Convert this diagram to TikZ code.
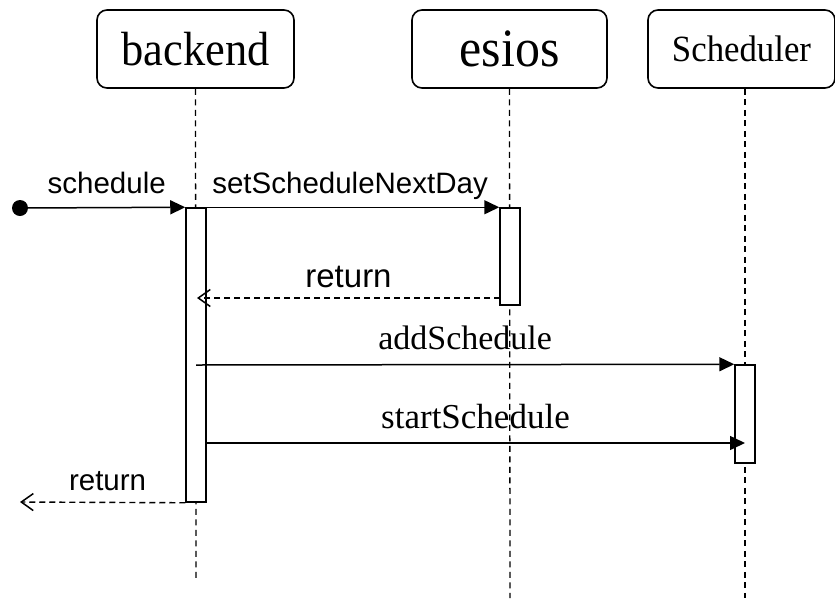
\documentclass[tikz,border=0pt]{standalone}
\usepackage{fontspec}
\setmainfont{Liberation Serif}
\newfontfamily\labelsans{Liberation Sans}
\usetikzlibrary{arrows.meta}

\tikzset{
  head/.style={draw, line width=1.6pt, rounded corners=10pt, fill=white,
    inner sep=0pt},
  life/.style={line width=1.3pt, dash pattern=on 6pt off 4.5pt},
  act/.style={draw, line width=1.5pt, fill=white, minimum width=20pt,
    inner sep=0pt},
  startdot/.style={circle, fill=black, minimum size=16pt, inner sep=0pt},
  msg/.style={line width=1.5pt, -{Triangle[length=15pt, width=14pt]}},
  ret/.style={line width=1.4pt, dash pattern=on 6pt off 4pt,
    -{Straight Barb[length=12pt, width=17pt, line width=1.5pt]}},
  sanslbl/.style={font=\labelsans\fontsize{29.5}{31}\selectfont, anchor=base},
  seriflbl/.style={font=\fontsize{34}{36}\selectfont, anchor=base},
}
% participant title: size, horizontal squeeze, downward shift, text
\newcommand{\headtext}[4]{\raisebox{-#3}{\scalebox{#2}[1]{\fontsize{#1}{#1}\selectfont #4}}}

\begin{document}
\begin{tikzpicture}[x=1pt, y=-1pt]
  \useasboundingbox (0,0) rectangle (835,598);

  % participants
  \node[head, minimum width=197pt, minimum height=78pt] (backend) at (195.5,49)
    {\headtext{48}{0.925}{2pt}{backend}};
  \node[head, minimum width=195pt, minimum height=78pt] (esios) at (509.5,49)
    {\headtext{54}{0.925}{3pt}{esios}};
  \node[head, minimum width=187pt, minimum height=78pt] (sched) at (741.5,49)
    {\headtext{37}{0.94}{2pt}{Scheduler}};

  % lifeline ends
  \coordinate (backendEnd) at (196,580);
  \coordinate (esiosEnd) at (510,598);
  \coordinate (schedEnd) at (745,598);
  \draw[life] (backend.south) -- (backendEnd);
  \draw[life] (esios.south) -- (esiosEnd);
  \draw[life] (sched.south -| schedEnd) -- (schedEnd);

  % activation bars
  \node[act, minimum height=294pt] (actB) at (196,355) {};
  \node[act, minimum height=97pt] (actE) at (510,256.5) {};
  \node[act, minimum height=98pt] (actS) at (745,414) {};

  % message end points
  \node[startdot] (start) at (20,208) {};
  \coordinate (retOneFrom) at (500,298);
  \coordinate (retOneTo) at (197,298);
  \coordinate (addFrom) at (196,365);
  \coordinate (startFrom) at (206,443);
  \coordinate (startTo) at (745,443);
  \coordinate (retTwoTo) at (20,502);

  % messages
  \draw[msg] (start) -- (actB.north west)
    node[sanslbl, midway, yshift=14pt] {schedule};
  \draw[msg] (actB.north east) -- (actE.north west)
    node[sanslbl, pos=0.49, yshift=14pt] {setScheduleNextDay};
  \draw[ret] (retOneFrom) -- (retOneTo)
    node[sanslbl, midway, yshift=11pt, font=\labelsans\fontsize{33}{35}\selectfont] {return};
  \draw[msg] (addFrom) -- (actS.north west)
    node[seriflbl, midway, yshift=15pt] {addSchedule};
  \draw[msg] (startFrom) -- (startTo)
    node[seriflbl, midway, yshift=15pt, font=\fontsize{35}{37}\selectfont] {startSchedule};
  \draw[ret] (actB.south west) -- (retTwoTo)
    node[sanslbl, pos=0.47, yshift=12pt] {return};
\end{tikzpicture}
\end{document}
